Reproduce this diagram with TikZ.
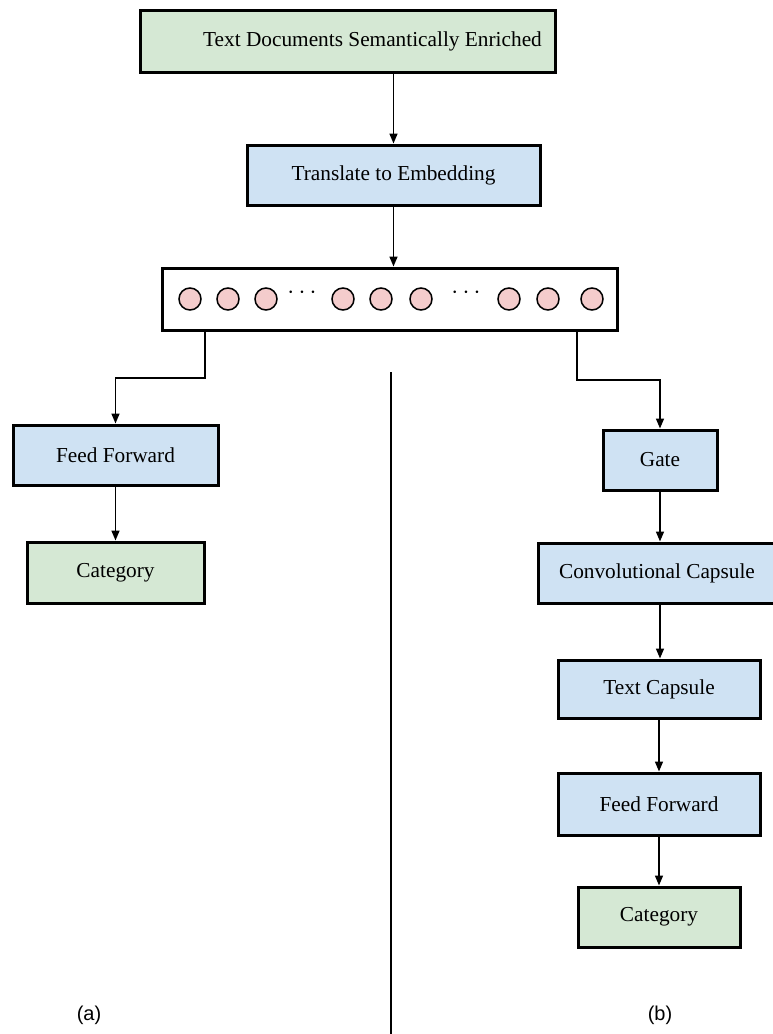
\documentclass[tikz,border=0pt]{standalone}
\usepackage{fontspec}
\setmainfont{Liberation Serif}
\newfontfamily\labelfont{Liberation Sans}
\usetikzlibrary{calc,arrows.meta,positioning}
\definecolor{LGreen}{HTML}{D5E8D4}
\definecolor{LBlue}{HTML}{CFE2F3}
\definecolor{LPink}{HTML}{F4CCCC}
\tikzset{
    box/.style={draw=black, line width=3pt, inner sep=0pt, font=\fontsize{21.3}{25}\selectfont},
    greenbox/.style={box, fill=LGreen},
    bluebox/.style={box, fill=LBlue},
    unit/.style={circle, draw=black, line width=1.5pt, fill=LPink, minimum size=22pt, inner sep=0pt},
    arr/.style={line width=1.5pt, -{Triangle[length=10pt,width=8pt]}},
    link/.style={line width=1.5pt}
}

\begin{document}
\begin{tikzpicture}[x=1pt, y=-1pt]
\useasboundingbox (0,0) rectangle (772,1034);

% top part
\node[greenbox, minimum width=415pt, minimum height=62pt] (docs) at (347.5,41) {\hspace*{50pt}Text Documents Semantically Enriched};
\node[bluebox, minimum width=293pt, minimum height=60pt] (embed) at (393.5,175) {Translate to Embedding};
\node[box, fill=white, minimum width=455pt, minimum height=62pt] (vec) at (389.5,299) {};

\foreach \x [count=\i] in {190,228,266,343,381,421,509,548,592}
    \node[unit] (u\i) at (\x,299) {};
\node[font=\fontsize{26}{28}\selectfont] (dotsA) at (302,293) {$\cdots$};
\node[font=\fontsize{26}{28}\selectfont] (dotsB) at (466,293) {$\cdots$};

\draw[arr] (docs.south -| embed.north) -- (embed.north);
\draw[arr] (embed.south) -- (embed.south |- vec.north);

% (a)
\node[bluebox, minimum width=205pt, minimum height=60pt] (ffa) at (115.5,455) {Feed Forward};
\node[greenbox, minimum width=177pt, minimum height=61pt] (cata) at (115.5,572.5) {Category};

\coordinate (lturn) at (205,378);
\draw[arr] (lturn |- vec.south) -- (lturn) -| (ffa.north);
\draw[arr] (ffa.south) -- (cata.north);

% (b)
\node[bluebox, minimum width=114pt, minimum height=60pt] (gate) at (660,460) {Gate};
\node[bluebox, minimum width=238pt, minimum height=60pt] (conv) at (657,573) {Convolutional Capsule};
\node[bluebox, minimum width=202pt, minimum height=58pt] (tcap) at (659,689) {Text Capsule};
\node[bluebox, minimum width=202pt, minimum height=62pt] (ffb) at (659,804) {Feed Forward};
\node[greenbox, minimum width=162pt, minimum height=60pt] (catb) at (659,917) {Category};

\coordinate (rturn) at (577,380);
\draw[arr] (rturn |- vec.south) -- (rturn) -| (gate.north);
\draw[arr] (gate.south) -- (gate.south |- conv.north);
\draw[arr] (gate.south |- conv.south) -- (gate.south |- tcap.north);
\draw[arr] (tcap.south) -- (ffb.north);
\draw[arr] (ffb.south) -- (catb.north);

% divider and labels
\coordinate (divtop) at (391,372);
\coordinate (divbot) at (391,1034);
\draw[link] (divtop) -- (divbot);
\node[font=\labelfont\fontsize{20}{24}\selectfont] (laba) at (89,1015) {(a)};
\node[font=\labelfont\fontsize{20}{24}\selectfont] (labb) at (660,1015) {(b)};
\end{tikzpicture}
\end{document}
